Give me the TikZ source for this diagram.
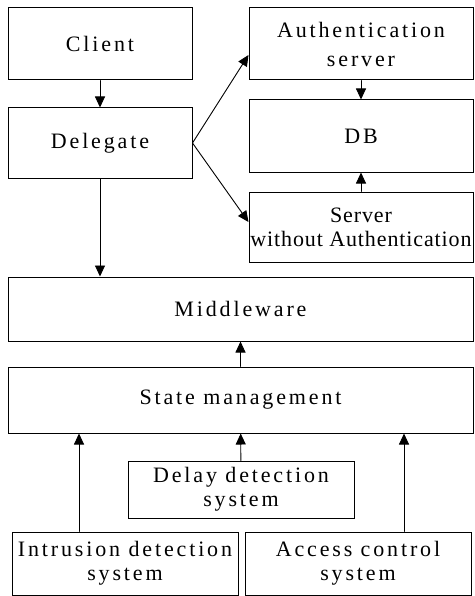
\documentclass[tikz,border=0pt]{standalone}
\usepackage{fontspec}
\setmainfont{Liberation Serif}
\newfontfamily\widefont[LetterSpace=13]{Liberation Serif}
\newfontfamily\thinfont[LetterSpace=4]{Liberation Serif}
\usepackage{tikz}
\usetikzlibrary{arrows.meta}
\usetikzlibrary{shapes,positioning}
\tikzset{>={Triangle[length=11pt,width=10pt]},
  block/.style={draw,line width=1pt,inner sep=0pt,align=center,
    font=\widefont\fontsize{22}{24}\selectfont}}

\begin{document}
\begin{tikzpicture}[x=1pt,y=-1pt,line cap=round]

  \useasboundingbox (0,0) rectangle (474,596);



  \node [block,minimum width=184,minimum height=72] (client) at (100,44) {Client};
  \node [block,minimum width=184,minimum height=70] (delegate) at (100,143) {Delegate};

  \node [block,minimum width=224,minimum height=72] (auth) at (361,44) {Authentication\\[5pt]server};
  \node [block,minimum width=224,minimum height=72] (db) at (361,136) {DB};
  \node [block,minimum width=224,minimum height=70,font=\thinfont\fontsize{22}{24}\selectfont] (plain) at (361,227) {Server\\without Authentication};



  \node [block,minimum width=465,minimum height=64] (middleware) at (240.5,309) {Middleware};
  \node [block,minimum width=465,minimum height=66] (state) at (240.5,400) {State management};

  \node [block,minimum width=226,minimum height=57] (delay) at (241,489.5) {Delay detection\\system};
  \node [block,minimum width=226,minimum height=63] (intrusion) at (125,563.5) {Intrusion detection\\system};
  \node [block,minimum width=226,minimum height=63] (access) at (358,563.5) {Access control\\system};



  \draw [line width=0.9pt,->] (client) -- (delegate);
  \draw [line width=0.9pt,->] (delegate.east) -- ([yshift=-11]auth.west);
  \draw [line width=0.9pt,->] (delegate.east) -- ([yshift=5]plain.west);
  \draw [line width=0.9pt,->] (delegate) -- (delegate |- middleware.north);

  \draw [line width=0.9pt,->] (auth) -- (db);
  \draw [line width=0.9pt,->] (plain) -- (db);

  \draw [line width=0.9pt,->] (state) -- (middleware);
  \draw [line width=0.9pt,->] (delay) -- (state);
  \draw [line width=0.9pt,->] ([xshift=-46]intrusion.north) -- ([xshift=-46]intrusion.north |- state.south);
  \draw [line width=0.9pt,->] ([xshift=46]access.north) -- ([xshift=46]access.north |- state.south);

\end{tikzpicture}
\end{document}
